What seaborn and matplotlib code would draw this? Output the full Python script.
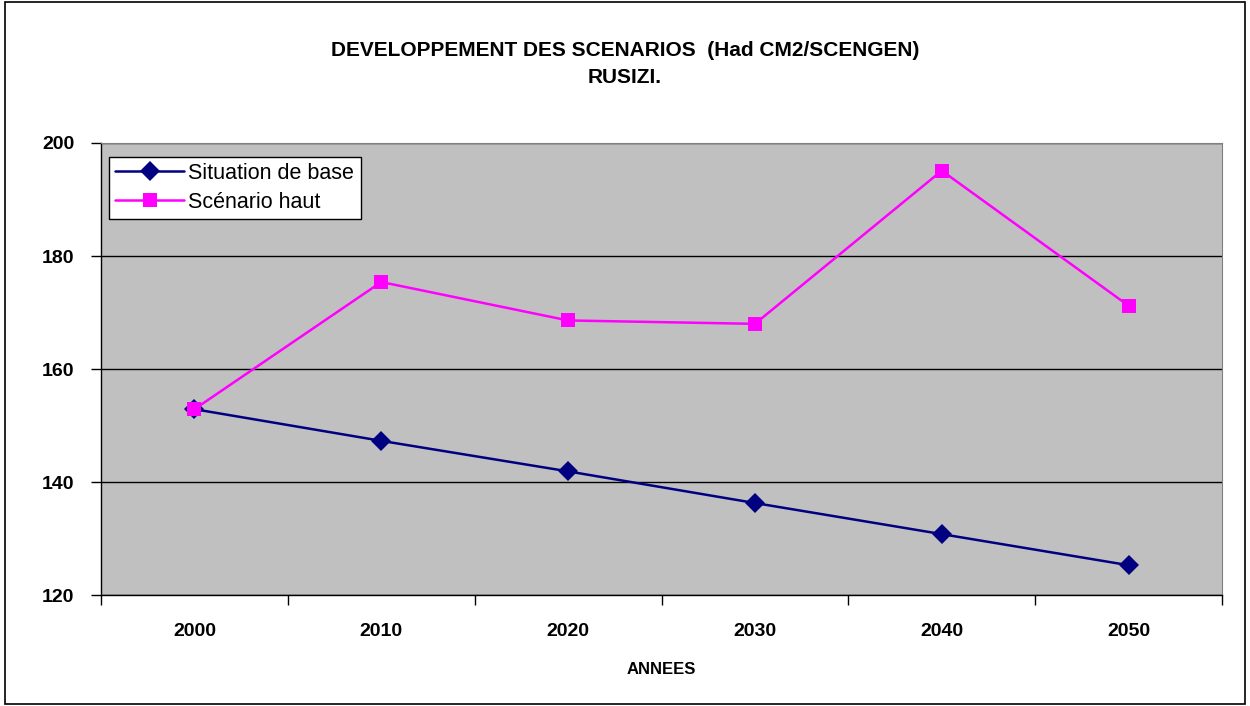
import matplotlib
matplotlib.use("Agg")
import matplotlib.pyplot as plt
import seaborn as sns
import pandas as pd
from matplotlib.patches import Rectangle

years = [2000, 2010, 2020, 2030, 2040, 2050]
base = [152.9, 147.3, 141.9, 136.3, 130.8, 125.3]
haut = [152.9, 175.4, 168.6, 168.0, 195.1, 171.2]
series_names = ["Situation de base", "Scénario haut"]
y_ticks = [120, 140, 160, 180, 200]

sns.set_style("white")
plt.rcParams['font.family'] = ['Liberation Sans', 'DejaVu Sans']
plt.rcParams['text.color'] = 'black'
plt.rcParams['xtick.color'] = 'black'
plt.rcParams['ytick.color'] = 'black'
plt.rcParams['axes.labelcolor'] = 'black'

df = pd.DataFrame({
    "ANNEES": years * 2,
    "val": base + haut,
    "serie": [series_names[0]] * len(years) + [series_names[1]] * len(years),
})

fig = plt.figure(figsize=(12.5, 7.06), dpi=100)
fig.patches.append(Rectangle((0.004, 0.003), 0.992, 0.994, transform=fig.transFigure,
                             fill=False, edgecolor="black", linewidth=1.2))
ax = fig.add_axes([0.0808, 0.157, 0.8968, 0.6405])
ax.set_facecolor("#c0c0c0")

palette = {series_names[0]: "#000080", series_names[1]: "#ff00ff"}
markers = {series_names[0]: "D", series_names[1]: "s"}
sns.lineplot(data=df, x="ANNEES", y="val", hue="serie", style="serie",
             palette=palette, markers=markers, dashes=False, markersize=10,
             linewidth=1.8, markeredgewidth=0, ax=ax)

ax.set_xlim(1995, 2055)
ax.set_ylim(120, 200)
ax.set_yticks(y_ticks)
ax.set_yticklabels([str(v) for v in y_ticks], fontsize=14, fontweight="bold")
ax.set_xticks(years)
ax.set_xticklabels([str(y) for y in years], fontsize=14, fontweight="bold")
ax.set_xticks([1995 + 10 * i for i in range(7)], minor=True)
ax.tick_params(axis="x", which="major", length=0, pad=20, bottom=True)
ax.tick_params(axis="x", which="minor", length=7, width=1, color="black",
               direction="out", bottom=True)
ax.tick_params(axis="y", length=7, width=1, color="black", direction="out", pad=12, left=True)
ax.yaxis.grid(True, color="black", linewidth=1)
ax.set_axisbelow(True)
for s in ["top", "right"]:
    ax.spines[s].set_color("#808080")
for s in ["left", "bottom"]:
    ax.spines[s].set_color("black")
    ax.spines[s].set_linewidth(1)
ax.set_ylabel("")
ax.set_xlabel("ANNEES", fontsize=12, fontweight="bold", labelpad=16)

leg = ax.legend(loc="upper left", bbox_to_anchor=(0.007, 0.97), fontsize=15.5, frameon=True,
                fancybox=False, edgecolor="black", framealpha=1, borderpad=0.3,
                handlelength=3.2, handletextpad=0.2, labelspacing=0.35, borderaxespad=0)
leg.get_frame().set_linewidth(1)

fig.text(0.5, 0.909, "DEVELOPPEMENT DES SCENARIOS  (Had CM2/SCENGEN)\nRUSIZI.",
         ha="center", va="center", fontsize=15, fontweight="bold", linespacing=1.55)

fig.savefig("out.png", dpi=100)
